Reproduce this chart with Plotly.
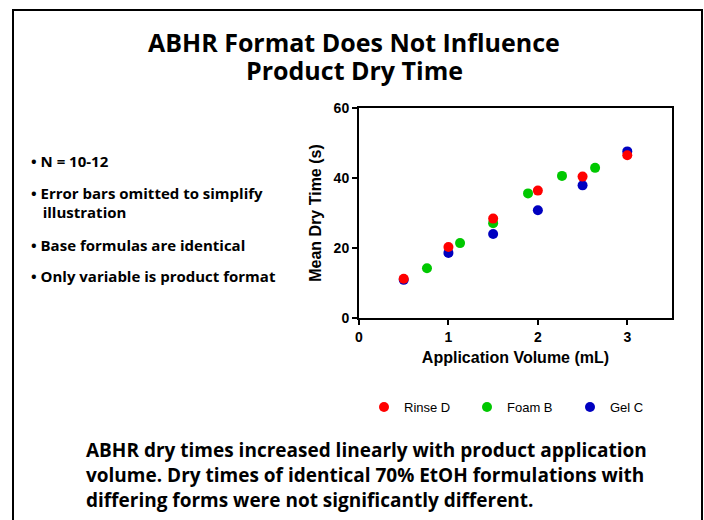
import plotly.graph_objects as go

W, H = 704, 520
L, T = 359, 108
R = W - 672
B = H - 318
PW, PH = W - L - R, H - T - B

def px(x):
    return (x - L) / PW

def py(y):
    return (H - B - y) / PH

series_names = ["Rinse D", "Foam B", "Gel C"]
series_colors = ["#FF0000", "#00C800", "#0000C0"]

rinse_x = [0.5, 1.0, 1.5, 2.0, 2.5, 3.0]
rinse_y = [11.2, 20.3, 28.4, 36.4, 40.4, 46.5]

foam_x = [0.76, 1.13, 1.5, 1.89, 2.27, 2.64]
foam_y = [14.2, 21.4, 27.1, 35.6, 40.6, 42.9]

gel_x = [0.5, 1.0, 1.5, 2.0, 2.5, 3.0]
gel_y = [10.9, 18.6, 24.0, 30.8, 37.9, 47.6]

x_ticks = [0, 1, 2, 3]
y_ticks = [0, 20, 40, 60]

title_lines = ["ABHR Format Does Not Influence", "Product Dry Time"]
bullet_lines = ["• N = 10-12",
                "• Error bars omitted to simplify",
                "   illustration",
                "• Base formulas are identical",
                "• Only variable is product format"]
conclusion_lines = ["ABHR dry times increased linearly with product application",
                    "volume. Dry times of identical 70% EtOH formulations with",
                    "differing forms were not significantly different."]

fig = go.Figure()
data = [(gel_x, gel_y, 2), (foam_x, foam_y, 1), (rinse_x, rinse_y, 0)]
for xs, ys, i in data:
    fig.add_trace(go.Scatter(
        x=xs, y=ys, mode="markers", name=series_names[i],
        marker=dict(color=series_colors[i], size=10, line=dict(width=0)),
        legendrank=i + 1,
    ))

TXT = "Open Sans"
AR = "Arial, Liberation Sans"
fig.update_layout(
    width=W, height=H,
    margin=dict(l=L, r=R, t=T, b=B, autoexpand=False),
    paper_bgcolor="white", plot_bgcolor="white",
    font=dict(family=AR, color="black"),
    showlegend=True,
    legend=dict(orientation="h", x=px(364), y=py(407), yanchor="middle",
                xanchor="left", font=dict(size=13, family=AR),
                bgcolor="rgba(0,0,0,0)", itemwidth=30, entrywidth=58),
    xaxis=dict(range=[0, 3.5], tickvals=x_ticks, showline=True, linewidth=2,
               linecolor="black", mirror=True, ticks="outside", ticklen=5,
               tickwidth=2, tickcolor="black", showgrid=False, zeroline=False,
               tickfont=dict(size=14, family=AR, weight="bold"),
               title=dict(text="<b>Application Volume (mL)</b>", standoff=8,
                          font=dict(size=16, family=AR))),
    yaxis=dict(range=[0, 60], tickvals=y_ticks, showline=True, linewidth=2,
               linecolor="black", mirror=True, ticks="outside", ticklen=5,
               tickwidth=2, tickcolor="black", showgrid=False, zeroline=False,
               tickfont=dict(size=14, family=AR, weight="bold"),
               title=dict(text="<b>Mean Dry Time (s)</b>", standoff=8,
                          font=dict(size=16, family=AR))),
)

fig.add_shape(type="rect", xref="paper", yref="paper",
              x0=px(13), x1=px(702), y0=py(10), y1=py(560),
              line=dict(color="black", width=2), fillcolor="rgba(0,0,0,0)")

anns = []
for txt, yc in zip(title_lines, [42, 70]):
    anns.append(dict(text="<b>%s</b>" % txt, x=px(354), y=py(yc), xref="paper",
                     yref="paper", xanchor="center", yanchor="middle",
                     showarrow=False, font=dict(size=25, family=TXT)))
for txt, yc in zip(bullet_lines, [161, 193, 212, 245, 276]):
    anns.append(dict(text="<b>%s</b>" % txt, x=px(29), y=py(yc), xref="paper",
                     yref="paper", xanchor="left", yanchor="middle", align="left",
                     showarrow=False, font=dict(size=15, family=TXT)))
for txt, yc in zip(conclusion_lines, [450, 475, 500]):
    anns.append(dict(text="<b>%s</b>" % txt, x=px(84), y=py(yc), xref="paper",
                     yref="paper", xanchor="left", yanchor="middle", align="left",
                     showarrow=False, font=dict(size=19, family=TXT)))
fig.update_layout(annotations=anns)

fig.write_html("out.html", config={"displayModeBar": False},
               post_script="document.body.style.margin='0';document.body.style.overflow='hidden';")
